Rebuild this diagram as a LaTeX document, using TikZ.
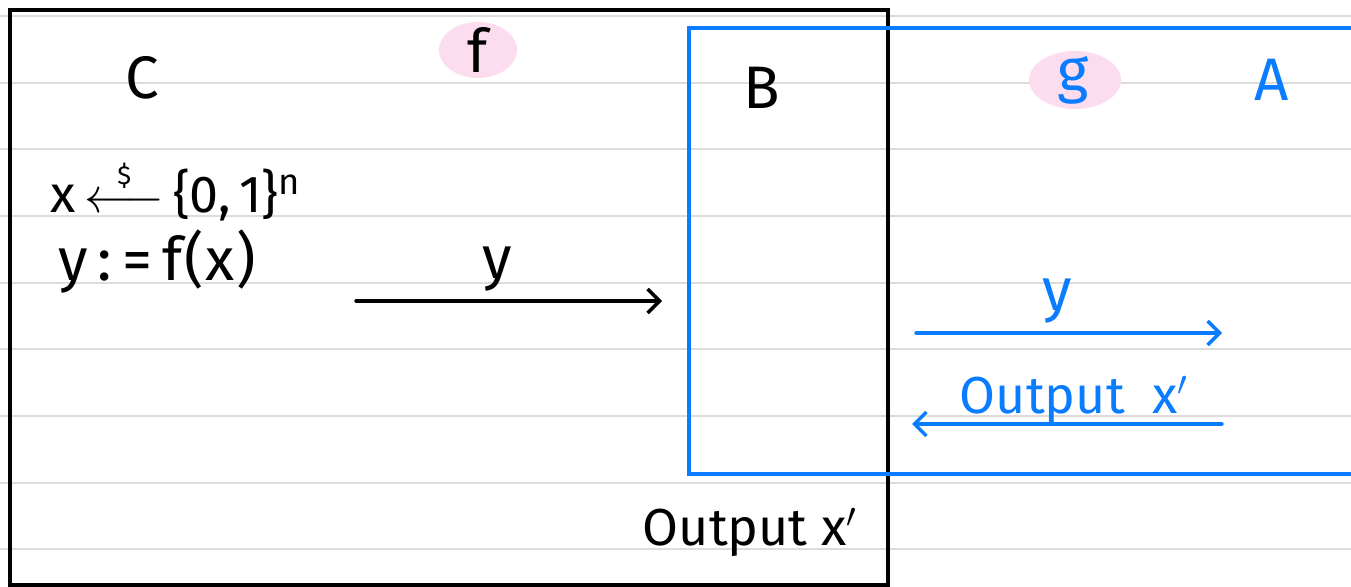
\documentclass[tikz,border=0pt]{standalone}
\usepackage{amsmath}
\usepackage{fontspec}
\setmainfont{Fira Sans}
\usetikzlibrary{arrows.meta,shapes.geometric}
\definecolor{pen}{HTML}{0A7CFF}
\definecolor{hl}{HTML}{FCDDEF}
\definecolor{ruleline}{HTML}{DCDCDC}
\tikzset{
  big/.style={font=\fontsize{30}{36}\selectfont, inner sep=0pt},
  mid/.style={font=\fontsize{26}{31}\selectfont, inner sep=0pt},
  hlbox/.style={ellipse, fill=hl, inner sep=0pt},
  frame/.style={line width=1.8pt},
  arr/.style={line width=1.7pt, line cap=round, -{Straight Barb[length=6pt,width=12pt]}},
}
\newcommand{\randarrow}{\ensuremath{\mathrel{\overset{\raisebox{0pt}{\fontsize{13}{13}\selectfont\$}}{\longleftarrow}}}}
\begin{document}
\begin{tikzpicture}[x=0.5pt,y=-0.5pt]
\useasboundingbox (0,0) rectangle (1351,587);
\fill[white] (0,0) rectangle (1351,587);
\foreach \k in {0,...,8}
  \draw[ruleline, line width=1pt] (0,{16+66.67*\k}) -- (1351,{16+66.67*\k});

% frames
\draw[frame] (10,10) rectangle (888,585);
\draw[frame, pen] (1370,28) -- (689,28) -- (689,474) -- (1370,474);

% titles
\node[big] (C) at (142,78) {C};
\node[hlbox, minimum width=39pt, minimum height=28pt] (fhl) at (478,50) {};
\node[big] (f) at (478,50) {f};
\node[big] (B) at (762,88) {B};
\node[hlbox, minimum width=46pt, minimum height=29pt] (ghl) at (1075,80) {};
\node[big, text=pen] (g) at (1073,80) {g};
\node[big, text=pen] (A) at (1272,80) {A};

% C's steps
\node[mid, anchor=west] (l1) at (50,190) {x\,\randarrow\,\{0,\,1\}\textsuperscript{n}};
\node[big, anchor=west] (l2) at (58,262) {y\hspace{5pt}:\hspace{5pt}=\hspace{5pt}f\hspace{1pt}(\hspace{1pt}x\hspace{1pt})};

% arrows
\coordinate (a1s) at (356,301);
\coordinate (a1e) at (662,301);
\draw[arr] (a1s) -- node[big, pos=0.46, above=4pt] (ly1) {y} (a1e);

\coordinate (a2s) at (916,333);
\coordinate (a2e) at (1222,333);
\draw[arr, pen] (a2s) -- node[big, text=pen, pos=0.46, above=4pt] (ly2) {y} (a2e);

\coordinate (a3s) at (1222,424);
\coordinate (a3e) at (912,424);
\draw[arr, pen] (a3s) -- (a3e);
\node[mid, text=pen] (lo2) at (1074,400) {Output~~x$'$};

\node[mid] (lo1) at (750,532) {Output x$'$};
\end{tikzpicture}
\end{document}
